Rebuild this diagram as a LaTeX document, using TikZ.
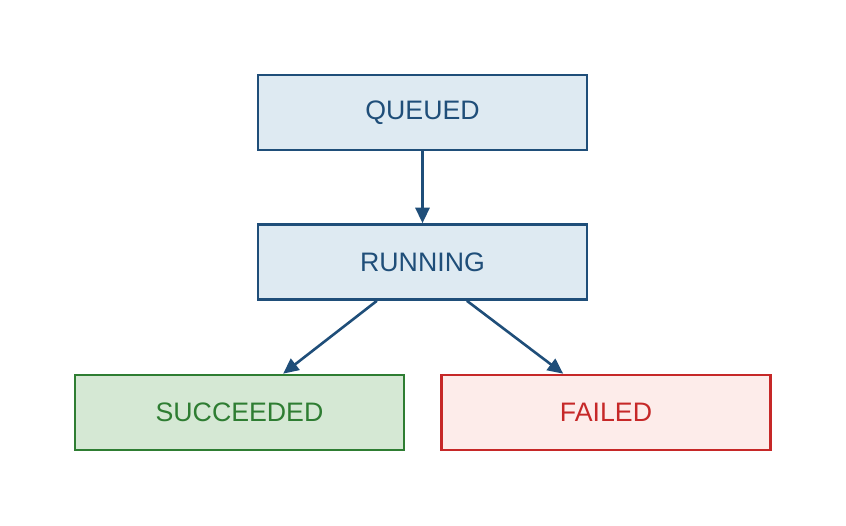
\documentclass[tikz,border=0pt]{standalone}
\usepackage{fontspec}
\setmainfont{Liberation Sans}
\usetikzlibrary{arrows.meta}
\definecolor{runblue}{RGB}{31,78,121}
\definecolor{runfill}{RGB}{222,234,242}
\definecolor{okgreen}{RGB}{46,125,50}
\definecolor{okfill}{RGB}{213,232,212}
\definecolor{badred}{RGB}{198,40,40}
\definecolor{badfill}{RGB}{253,236,234}
\begin{document}
\begin{tikzpicture}[x=0.025cm, y=-0.025cm]
      \useasboundingbox (0,0) rectangle (846,525);
      \tikzstyle{every node} = [draw, rectangle, line width=1.85pt, minimum width=8.225cm,
        minimum height=1.875cm, font=\fontsize{19}{23}\selectfont]
      \tikzstyle{state} = [draw=runblue, fill=runfill, text=runblue]
      \tikzstyle{good} = [draw=okgreen, fill=okfill, text=okgreen]
      \tikzstyle{bad} = [draw=badred, fill=badfill, text=badred]
      \node[state](queued) at (422.5,112.5) {QUEUED};
      \node[state](running) at (422.5,262) {RUNNING};
      \node[good](succeeded) at (239.5,412.5) {SUCCEEDED};
      \node[bad](failed) at (606,412.5) {FAILED};

      \tikzstyle{every node} = []
      \tikzstyle{flow} = [draw=runblue, line width=1.85pt, -{Triangle[length=11pt,width=10pt]}]
      \draw[flow]
      (queued) -- (running);
      \draw[flow]
      ([xshift=-1.14cm]running.south) -- ([xshift=1.09cm]succeeded.north);
      \draw[flow]
      ([xshift=1.11cm]running.south) -- ([xshift=-1.07cm]failed.north);
    \end{tikzpicture}
\end{document}
